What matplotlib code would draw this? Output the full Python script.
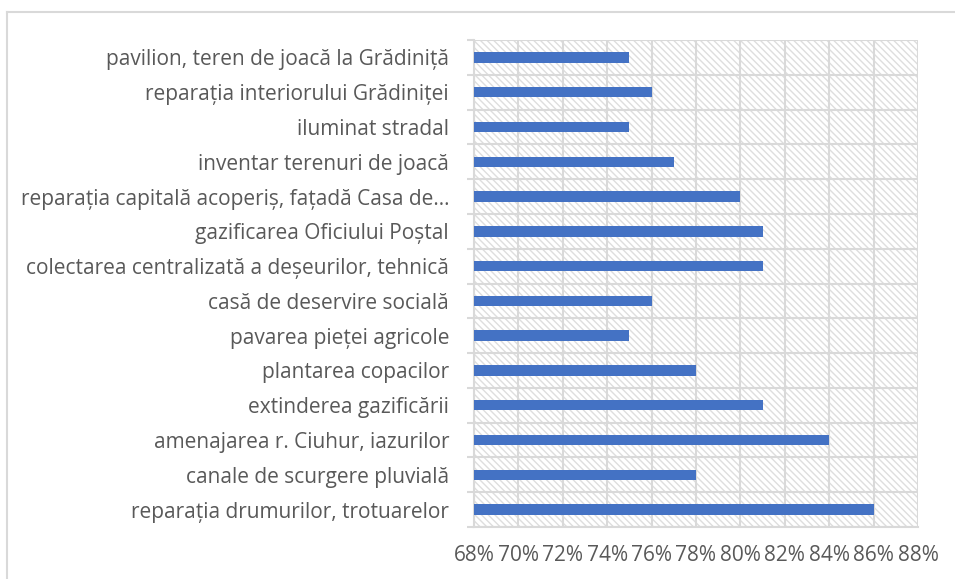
import matplotlib.pyplot as plt
from matplotlib.patches import Rectangle
from matplotlib.lines import Line2D
from matplotlib.ticker import FuncFormatter, MultipleLocator

# categories bottom -> top, as in the picture
categories = [
    "reparația drumurilor, trotuarelor",
    "canale de scurgere pluvială",
    "amenajarea r. Ciuhur, iazurilor",
    "extinderea gazificării",
    "plantarea copacilor",
    "pavarea pieței agricole",
    "casă de deservire socială",
    "colectarea centralizată a deșeurilor, tehnică",
    "gazificarea Oficiului Poștal",
    "reparația capitală acoperiș, fațadă Casa de…",
    "inventar terenuri de joacă",
    "iluminat stradal",
    "reparația interiorului Grădiniței",
    "pavilion, teren de joacă la Grădiniță",
]
values = [0.86, 0.78, 0.84, 0.81, 0.78, 0.75, 0.76, 0.81, 0.81, 0.80, 0.77, 0.75, 0.76, 0.75]

grid_col = "#D9D9D9"
text_col = "#595959"
bar_col = "#4472C4"

plt.rcParams["font.family"] = ["Open Sans", "DejaVu Sans"]
plt.rcParams["hatch.color"] = "#DEDEDE"
plt.rcParams["hatch.linewidth"] = 1.0

fig = plt.figure(figsize=(9.55, 5.79), dpi=100)
ax = fig.add_axes([474 / 955, 1 - 527 / 579, (918 - 474) / 955, (527 - 40) / 579])

# hatched plot area background
ax.add_patch(Rectangle((0, 0), 1, 1, transform=ax.transAxes, facecolor="white",
                       edgecolor="#DEDEDE", hatch="\\\\\\\\\\", linewidth=0, zorder=0))

y = list(range(len(categories)))
ax.barh(y, [v - 0.68 for v in values], left=0.68, height=0.3, color=bar_col, zorder=3)

ax.set_xlim(0.68, 0.88)
ax.set_ylim(-0.5, len(categories) - 0.5)
ax.xaxis.set_major_locator(MultipleLocator(0.02))
ax.xaxis.set_major_formatter(FuncFormatter(lambda v, p: "{:.0f}%".format(v * 100)))
ax.set_yticks(y)
ax.set_yticklabels(categories)
ax.set_yticks([k - 0.5 for k in range(len(categories) + 1)], minor=True)

ax.grid(axis="x", which="major", color=grid_col, linewidth=1.5, zorder=1)
ax.grid(axis="y", which="minor", color=grid_col, linewidth=1.5, zorder=1)
ax.set_axisbelow(True)

ax.tick_params(axis="y", which="major", length=0, pad=18, labelsize=15, labelcolor=text_col)
ax.tick_params(axis="y", which="minor", length=5, width=1.5, color=grid_col)
ax.tick_params(axis="x", which="major", length=0, pad=13, labelsize=15, labelcolor=text_col)

for s in ["top", "right"]:
    ax.spines[s].set_visible(False)
for s in ["left", "bottom"]:
    ax.spines[s].set_color(grid_col)
    ax.spines[s].set_linewidth(1.5)

# outer chart border (cropped at right and bottom)
fig.add_artist(Line2D([7 / 955, 7 / 955], [0, 1 - 12 / 579], transform=fig.transFigure,
                      color=grid_col, linewidth=1.5))
fig.add_artist(Line2D([7 / 955, 1], [1 - 12 / 579, 1 - 12 / 579], transform=fig.transFigure,
                      color=grid_col, linewidth=1.5))

fig.savefig("out.png", dpi=100)
